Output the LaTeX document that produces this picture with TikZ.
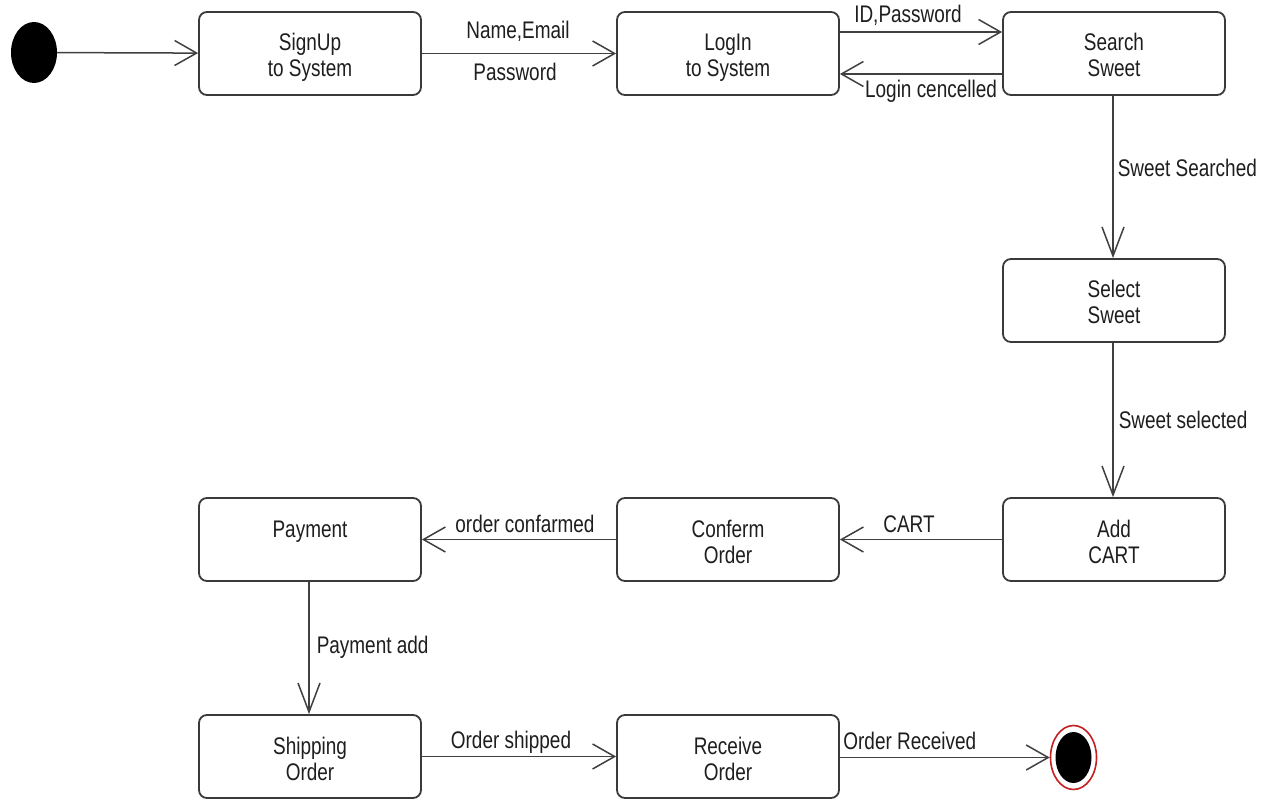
\documentclass[tikz,border=0pt]{standalone}
\usepackage{fontspec}
\setmainfont{Liberation Sans}[FakeStretch=0.79]
\usetikzlibrary{arrows.meta,shapes.geometric,calc}

\definecolor{boxgray}{HTML}{3A3A3A}
\definecolor{linegray}{HTML}{404040}
\definecolor{txt}{HTML}{1E1E1E}
\definecolor{ringred}{HTML}{C42020}

\begin{document}
\begin{tikzpicture}[x=1pt,y=-1pt,
  state/.style={draw=boxgray, line width=1.8pt, rounded corners=8pt,
    minimum width=222pt, minimum height=83pt, inner sep=0pt,
    align=center, text=txt, font=\fontsize{24}{26}\selectfont,
    text height=52pt, text depth=5pt},
  conn/.style={draw=linegray, line width=1.5pt},
  harrow/.style={-{Straight Barb[length=22pt,width=25pt]}},
  varrow/.style={-{Straight Barb[length=29pt,width=22pt]}},
  lbl/.style={inner sep=0pt, text=txt, font=\fontsize{24}{26}\selectfont}]

  % canvas
  \fill[white] (0,0) rectangle (1274,799);
  \useasboundingbox (0,0) rectangle (1274,799);

  % initial and final pseudo-states
  \node[ellipse, fill=black, minimum width=46pt, minimum height=61pt, inner sep=0pt] (start) at (34,52.5) {};
  \node[ellipse, draw=ringred, line width=1.6pt, fill=white, minimum width=46pt, minimum height=64pt, inner sep=0pt] (final) at (1073.5,757.5) {};
  \node[ellipse, fill=black, minimum width=36pt, minimum height=51pt, inner sep=0pt] (finalcore) at (final.center) {};

  % states
  \node[state] (signup)   at (310,53.5)   {SignUp\\to System};
  \node[state] (login)    at (728,53.5)   {LogIn\\to System};
  \node[state] (search)   at (1114,53.5)  {Search\\Sweet};
  \node[state] (select)   at (1114,300.5) {Select\\Sweet};
  \node[state] (addcart)  at (1114,539.5) {Add\\CART};
  \node[state] (confirm)  at (728,539.5)  {Conferm\\Order};
  \node[state] (payment)  at (310,539.5)  {Payment\\\phantom{Xg}};
  \node[state] (shipping) at (310,756.5)  {Shipping\\Order};
  \node[state] (receive)  at (728,756.5)  {Receive\\Order};

  % transitions
  \draw[conn, harrow] (start) -- (signup);
  \draw[conn, harrow] (signup) -- (login)
    node[lbl, anchor=base, pos=0.5, xshift=-1pt, yshift=15pt] (lname) {Name,Email}
    node[lbl, anchor=base, pos=0.5, xshift=-4pt, yshift=-27pt] (lpass) {Password};
  \draw[conn, harrow] ($(login.east)+(0,-21.5)$) -- ($(search.west)+(0,-21.5)$)
    node[lbl, anchor=base, pos=0.5, xshift=-13pt, yshift=9pt] (lid) {ID,Password};
  \draw[conn, harrow] ($(search.west)+(0,20.5)$) -- ($(login.east)+(0,20.5)$)
    node[lbl, anchor=base, pos=0.5, xshift=10pt, yshift=-24pt] (lcancel) {Login cencelled};
  \draw[conn, varrow] ($(search.south)+(-1,0)$) -- ($(select.north)+(-1,0)$)
    node[lbl, anchor=base west, pos=0.5, xshift=4pt, yshift=0pt] (lsearched) {Sweet Searched};
  \draw[conn, varrow] ($(select.south)+(-1,0)$) -- ($(addcart.north)+(-1,0)$)
    node[lbl, anchor=base west, pos=0.5, xshift=5pt, yshift=-8pt] (lselected) {Sweet selected};
  \draw[conn, harrow] (addcart) -- (confirm)
    node[lbl, anchor=base, pos=0.5, xshift=-12pt, yshift=7pt] (lcart) {CART};
  \draw[conn, harrow] (confirm) -- (payment)
    node[lbl, anchor=base, pos=0.5, xshift=6pt, yshift=7pt] (lconf) {order confarmed};
  \draw[conn, varrow] ($(payment.south)+(-1,0)$) -- ($(shipping.north)+(-1,0)$)
    node[lbl, anchor=base west, pos=0.5, xshift=7pt, yshift=-5pt] (lpay) {Payment add};
  \draw[conn, harrow] (shipping) -- (receive)
    node[lbl, anchor=base, pos=0.5, xshift=-8pt, yshift=8pt] (lship) {Order shipped};
  \draw[conn, harrow] ($(receive.east)+(0,1)$) -- (final.west)
    node[lbl, anchor=base, pos=0.5, xshift=-35pt, yshift=8pt] (lrecv) {Order Received};
\end{tikzpicture}
\end{document}
